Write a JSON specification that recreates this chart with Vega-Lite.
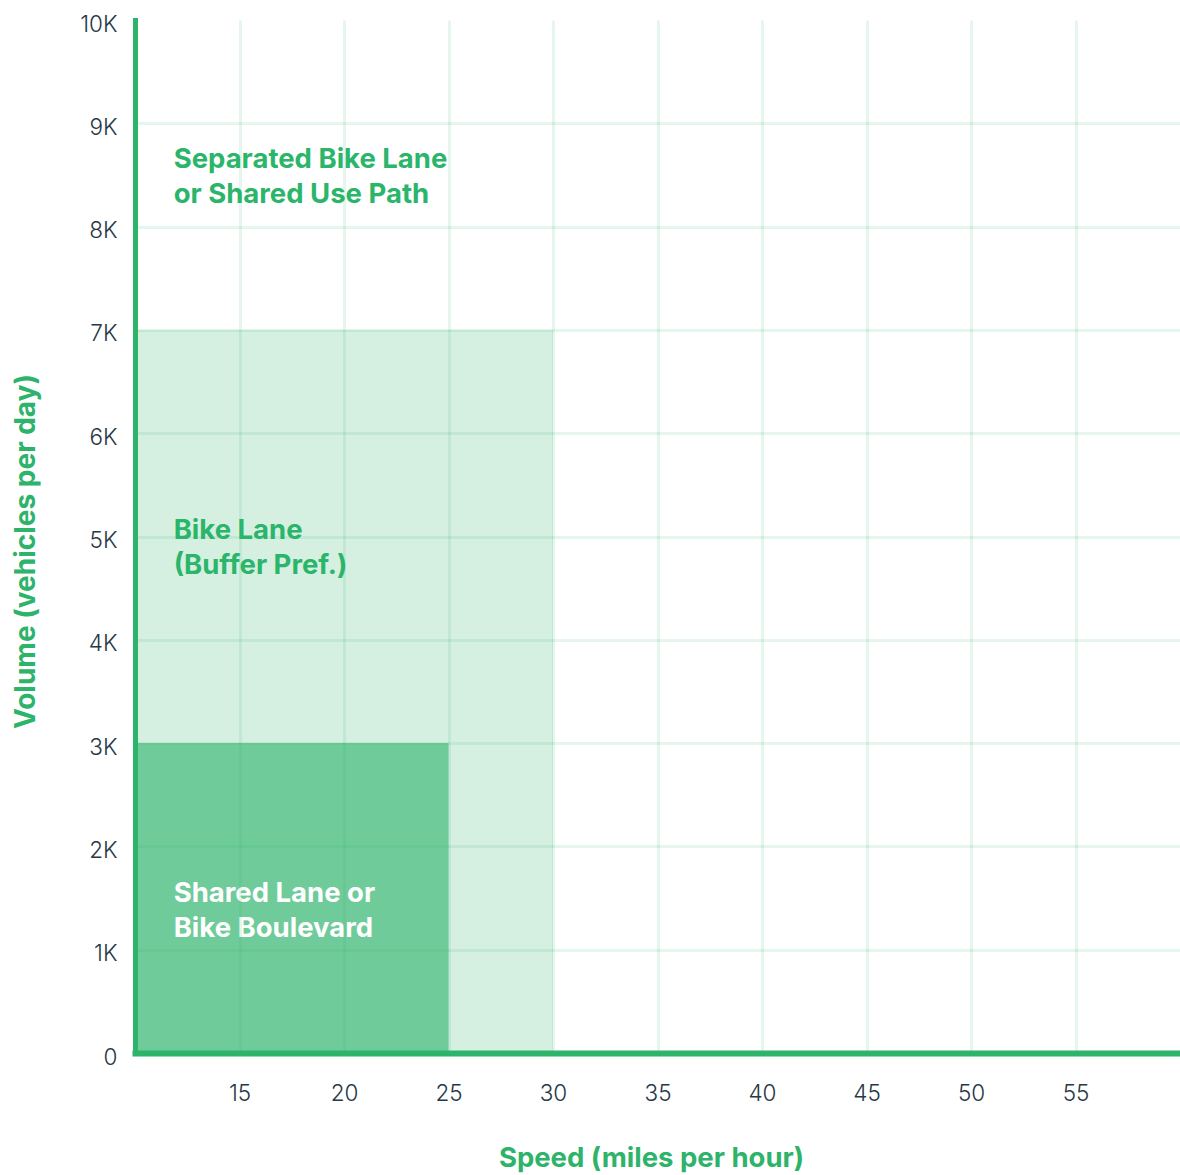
{
  "$schema": "https://vega.github.io/schema/vega-lite/v6.json",
  "width": 1045,
  "height": 1033,
  "autosize": "none",
  "padding": {"left": 135, "top": 20, "right": 0, "bottom": 122},
  "background": "white",
  "config": {"view": {"stroke": null}, "font": "Inter"},
  "layer": [
    {
      "data": {"values": [
        {"zone": "Bike Lane", "speed_min": 10, "speed_max": 30, "vol_min": 0, "vol_max": 7000},
        {"zone": "Shared Lane", "speed_min": 10, "speed_max": 25, "vol_min": 0, "vol_max": 3000}
      ]},
      "mark": {"type": "rect", "fill": "#2db36a"},
      "encoding": {
        "x": {"field": "speed_min", "type": "quantitative",
          "scale": {"domain": [10, 60], "nice": false, "zero": false},
          "axis": {"values": [15, 20, 25, 30, 35, 40, 45, 50, 55], "grid": true, "gridColor": "#2db36a", "gridOpacity": 0.12, "gridWidth": 3,
            "domainColor": "#2db36a", "domainWidth": 6, "domainCap": "square", "ticks": false, "zindex": 1,
            "labelPadding": 29, "labelFont": "Inter", "labelFontSize": 22.5, "labelFontWeight": 300, "labelColor": "#273846",
            "title": "Speed (miles per hour)", "titleFont": "Inter", "titleFontSize": 27.5, "titleFontWeight": 700, "titleColor": "#2db36a",
            "titleX": 516, "titleY": 105, "titleBaseline": "middle", "titleAnchor": "middle"}},
        "x2": {"field": "speed_max"},
        "y": {"field": "vol_min", "type": "quantitative",
          "scale": {"domain": [0, 10000], "nice": false},
          "axis": {"values": [0, 1000, 2000, 3000, 4000, 5000, 6000, 7000, 8000, 9000, 10000],
            "labelExpr": "datum.value == 0 ? '0' : (datum.value / 1000) + 'K'",
            "grid": true, "gridColor": "#2db36a", "gridOpacity": {"condition": {"test": "datum.value >= 10000", "value": 0}, "value": 0.12}, "gridWidth": 3,
            "domainColor": "#2db36a", "domainWidth": 5, "domainCap": "square", "ticks": false, "zindex": 1,
            "labelPadding": 18, "labelOffset": 4, "labelFont": "Inter", "labelFontSize": 22.5, "labelFontWeight": 300, "labelColor": "#273846",
            "title": "Volume (vehicles per day)", "titleFont": "Inter", "titleFontSize": 28, "titleFontWeight": 700, "titleColor": "#2db36a",
            "titleAngle": 270, "titleX": -109, "titleY": 531, "titleBaseline": "middle", "titleAlign": "center"}},
        "y2": {"field": "vol_max"},
        "opacity": {"field": "zone", "type": "nominal", "scale": {"domain": ["Bike Lane", "Shared Lane"], "range": [0.2, 0.6]}, "legend": null}
      }
    },
    {
      "data": {"values": [
        {"zone": "Separated", "speed": 11.85, "volume": 8640, "label": "Separated Bike Lane\nor Shared Use Path"},
        {"zone": "Bike Lane", "speed": 11.85, "volume": 5055, "label": "Bike Lane\n(Buffer Pref.)"},
        {"zone": "Shared Lane", "speed": 11.85, "volume": 1535, "label": "Shared Lane or\nBike Boulevard"}
      ]},
      "mark": {"type": "text", "align": "left", "baseline": "middle", "font": "Inter", "fontWeight": 700, "fontSize": 27.5, "lineBreak": "\n", "lineHeight": 35},
      "encoding": {
        "x": {"field": "speed", "type": "quantitative"},
        "y": {"field": "volume", "type": "quantitative"},
        "text": {"field": "label"},
        "color": {"condition": {"test": "datum.zone == 'Shared Lane'", "value": "#ffffff"}, "value": "#2bb56a"}
      }
    }
  ]
}
